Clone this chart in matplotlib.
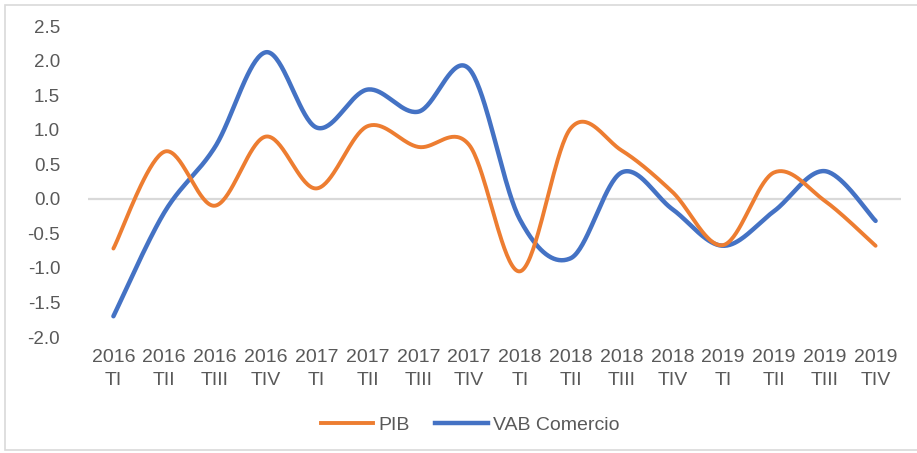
import numpy as np
import matplotlib
matplotlib.use("Agg")
import matplotlib.pyplot as plt
from matplotlib.patches import Rectangle
from matplotlib.lines import Line2D

years = ["2016"] * 4 + ["2017"] * 4 + ["2018"] * 4 + ["2019"] * 4
quarters = ["TI", "TII", "TIII", "TIV"] * 4
tick_labels = [f"{y}\n{q}" for y, q in zip(years, quarters)]

pib = [-0.72, 0.68, -0.1, 0.9, 0.15, 1.05, 0.75, 0.78,
       -1.05, 1.02, 0.7, 0.1, -0.67, 0.38, -0.03, -0.68]
vab = [-1.7, -0.2, 0.75, 2.12, 1.03, 1.58, 1.26, 1.88,
       -0.3, -0.86, 0.38, -0.15, -0.68, -0.18, 0.4, -0.32]

W, H = 917, 453
fig = plt.figure(figsize=(W / 100, H / 100), dpi=100)
plt.rcParams['font.family'] = ['Liberation Sans', 'DejaVu Sans']

# chart border
fig.patches.append(Rectangle((5 / W, 1 - 450 / H), (W - 4) / W, (450 - 5) / H,
                             transform=fig.transFigure, fill=False,
                             edgecolor="#d9d9d9", lw=1.2))

ax = fig.add_axes([88 / W, 1 - 337 / H, (901 - 88) / W, (337 - 26) / H])


def smooth(vals, n=40):
    p = np.asarray(vals, float)
    x = np.arange(len(p), dtype=float)
    xs, ys = [], []
    for i in range(len(p) - 1):
        x0, x3 = x[i], x[i + 1]
        y0, y3 = p[i], p[i + 1]
        ym = p[i - 1] if i > 0 else p[i]
        yp = p[i + 2] if i + 2 < len(p) else p[i + 1]
        xm = x[i - 1] if i > 0 else x[i]
        xp = x[i + 2] if i + 2 < len(p) else x[i + 1]
        x1 = x0 + (x3 - xm) / 6
        y1 = y0 + (y3 - ym) / 6
        x2 = x3 - (xp - x0) / 6
        y2 = y3 - (yp - y0) / 6
        t = np.linspace(0, 1, n)
        bx = (1 - t) ** 3 * x0 + 3 * (1 - t) ** 2 * t * x1 + 3 * (1 - t) * t ** 2 * x2 + t ** 3 * x3
        by = (1 - t) ** 3 * y0 + 3 * (1 - t) ** 2 * t * y1 + 3 * (1 - t) * t ** 2 * y2 + t ** 3 * y3
        xs.append(bx)
        ys.append(by)
    return np.concatenate(xs), np.concatenate(ys)


ax.axhline(0, color="#d9d9d9", lw=1.6, zorder=1)
orange = "#ED7D31"
blue = "#4472C4"
sx, sy = smooth(pib)
ax.plot(sx, sy, color=orange, lw=2.8, solid_capstyle="round", zorder=3)
sx, sy = smooth(vab)
ax.plot(sx, sy, color=blue, lw=3.2, solid_capstyle="round", zorder=2)

ax.set_xlim(-0.5, len(pib) - 0.5)
ax.set_ylim(-2.0, 2.5)
ax.set_yticks(np.arange(-2.0, 2.51, 0.5))
ax.set_yticklabels([f"{v:.1f}" for v in np.arange(-2.0, 2.51, 0.5)])
ax.set_xticks(np.arange(len(pib)))
ax.set_xticklabels(tick_labels, linespacing=1.45)
for s in ax.spines.values():
    s.set_visible(False)
ax.tick_params(axis="y", length=0, pad=20, labelsize=13.5, labelcolor="#595959")
ax.tick_params(axis="x", length=0, pad=9, labelsize=14, labelcolor="#595959")

handles = [Line2D([], [], color=orange, lw=2.8), Line2D([], [], color=blue, lw=3.2)]
fig.legend(handles, ["PIB", "VAB Comercio"], loc="center",
           bbox_to_anchor=(470 / W, 1 - 425 / H), ncol=2, frameon=False,
           handlelength=2.7, handletextpad=0.26, columnspacing=1.3,
           prop={'size': 14}, labelcolor="#595959")

fig.savefig("out.png", dpi=100)
